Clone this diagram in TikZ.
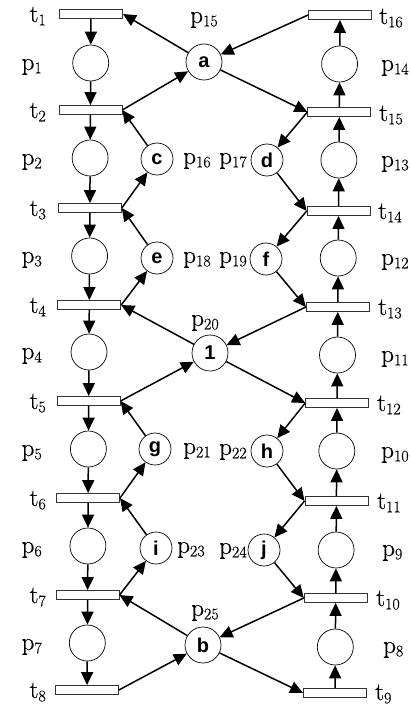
\documentclass[tikz,border=0pt]{standalone}
\usepackage{fontspec}
\newfontfamily\circfont{Liberation Sans}
\newfontfamily\labfont{Latin Modern Roman}[FakeBold=0.4]
\usetikzlibrary{arrows.meta}
\newcommand\lb[2]{#1\raisebox{-0.13em}{\fontsize{16}{16}\selectfont #2}}
\begin{document}
\begin{tikzpicture}[x=1pt,y=-1pt,
  bar/.style={draw=black!80, fill=white, minimum width=63pt, minimum height=9pt, inner sep=0pt, line width=0.8pt},
  place/.style={circle, draw, fill=white, minimum size=36pt, inner sep=0pt, line width=0.7pt,
    font=\circfont\bfseries\fontsize{20}{20}\selectfont},
  splace/.style={place, minimum size=32pt},
  arr/.style={-{Triangle[length=13pt,width=12pt]}, line width=1.5pt},
  lab/.style={font=\labfont\fontsize{25}{28}\selectfont, inner sep=0pt}]
\useasboundingbox (0,0) rectangle (410,706);
% left column
\node[bar] (t1) at (91,14) {};
\node[place] (p1) at (90.7,63) {};
\node[bar] (t2) at (90.4,110) {};
\node[place] (p2) at (90.1,158) {};
\node[bar] (t3) at (89.9,208) {};
\node[place] (p3) at (89.6,256) {};
\node[bar] (t4) at (89.3,305) {};
\node[place] (p4) at (89,352) {};
\node[bar] (t5) at (88.7,401) {};
\node[place] (p5) at (88.4,449) {};
\node[bar] (t6) at (88.1,498) {};
\node[place] (p6) at (87.9,546) {};
\node[bar] (t7) at (87.6,595) {};
\node[place] (p7) at (87.3,643) {};
\node[bar] (t8) at (87,690) {};
% right column
\node[bar] (t16) at (340,15) {};
\node[place] (p14) at (339.6,64) {};
\node[bar] (t15) at (339.3,112) {};
\node[place] (p13) at (338.9,160) {};
\node[bar] (t14) at (338.6,211) {};
\node[place] (p12) at (338.2,258) {};
\node[bar] (t13) at (337.8,307) {};
\node[place] (p11) at (337.5,355) {};
\node[bar] (t12) at (337.1,403) {};
\node[place] (p10) at (336.8,451) {};
\node[bar] (t11) at (336.4,501) {};
\node[place] (p9) at (336.1,550) {};
\node[bar] (t10) at (335.7,598) {};
\node[place] (p8) at (335.3,647) {};
\node[bar] (t9) at (335,693) {};
% middle places
\node[place] (a) at (204,62) {a};
\node[splace] (c) at (157,159) {c};
\node[splace] (d) at (267,160) {d};
\node[splace] (e) at (157,258) {e};
\node[splace] (f) at (266,259) {f};
\node[place] (one) at (210,353) {1};
\node[splace] (g) at (155,449) {g};
\node[splace] (h) at (267,451) {h};
\node[splace] (i) at (156,548) {i};
\node[splace] (j) at (264,550) {j};
\node[place] (b) at (203,645) {b};
% left column arcs
\draw[arr] (t1) -- (p1);
\draw[arr] (p1) -- (t2);
\draw[arr] (t2) -- (p2);
\draw[arr] (p2) -- (t3);
\draw[arr] (t3) -- (p3);
\draw[arr] (p3) -- (t4);
\draw[arr] (t4) -- (p4);
\draw[arr] (p4) -- (t5);
\draw[arr] (t5) -- (p5);
\draw[arr] (p5) -- (t6);
\draw[arr] (t6) -- (p6);
\draw[arr] (p6) -- (t7);
\draw[arr] (t7) -- (p7);
\draw[arr] (p7) -- (t8);
% right column arcs
\draw[arr] (t9) -- (p8);
\draw[arr] (p8) -- (t10);
\draw[arr] (t10) -- (p9);
\draw[arr] (p9) -- (t11);
\draw[arr] (t11) -- (p10);
\draw[arr] (p10) -- (t12);
\draw[arr] (t12) -- (p11);
\draw[arr] (p11) -- (t13);
\draw[arr] (t13) -- (p12);
\draw[arr] (p12) -- (t14);
\draw[arr] (t14) -- (p13);
\draw[arr] (p13) -- (t15);
\draw[arr] (t15) -- (p14);
\draw[arr] (p14) -- (t16);
% left diagonals
\draw[arr] (a) -- (t1.east);
\draw[arr] (t2.east) -- (a);
\draw[arr] (c) -- (t2.east);
\draw[arr] (t3.east) -- (c);
\draw[arr] (e) -- (t3.east);
\draw[arr] (t4.east) -- (e);
\draw[arr] (one) -- (t4.east);
\draw[arr] (t5.east) -- (one);
\draw[arr] (g) -- (t5.east);
\draw[arr] (t6.east) -- (g);
\draw[arr] (i) -- (t6.east);
\draw[arr] (t7.east) -- (i);
\draw[arr] (b) -- (t7.east);
\draw[arr] (t8.east) -- (b);
% right diagonals
\draw[arr] (t16.west) -- (a);
\draw[arr] (a) -- (t15.west);
\draw[arr] (t15.west) -- (d);
\draw[arr] (d) -- (t14.west);
\draw[arr] (t14.west) -- (f);
\draw[arr] (f) -- (t13.west);
\draw[arr] (t13.west) -- (one);
\draw[arr] (one) -- (t12.west);
\draw[arr] (t12.west) -- (h);
\draw[arr] (h) -- (t11.west);
\draw[arr] (t11.west) -- (j);
\draw[arr] (j) -- (t10.west);
\draw[arr] (t10.west) -- (b);
\draw[arr] (b) -- (t9.west);
% left labels
\node[lab, anchor=base east] (lt1) at (46,22) {\lb{t}{1}};
\node[lab, anchor=base east] (lt2) at (46,118) {\lb{t}{2}};
\node[lab, anchor=base east] (lt3) at (46,216) {\lb{t}{3}};
\node[lab, anchor=base east] (lt4) at (46,313) {\lb{t}{4}};
\node[lab, anchor=base east] (lt5) at (46,409) {\lb{t}{5}};
\node[lab, anchor=base east] (lt6) at (46,506) {\lb{t}{6}};
\node[lab, anchor=base east] (lt7) at (46,603) {\lb{t}{7}};
\node[lab, anchor=base east] (lt8) at (46,698) {\lb{t}{8}};
\node[lab, anchor=base east] (lp1) at (42,70) {\lb{p}{1}};
\node[lab, anchor=base east] (lp2) at (42,165) {\lb{p}{2}};
\node[lab, anchor=base east] (lp3) at (42,263) {\lb{p}{3}};
\node[lab, anchor=base east] (lp4) at (42,359) {\lb{p}{4}};
\node[lab, anchor=base east] (lp5) at (42,456) {\lb{p}{5}};
\node[lab, anchor=base east] (lp6) at (42,553) {\lb{p}{6}};
\node[lab, anchor=base east] (lp7) at (42,650) {\lb{p}{7}};
% right labels
\node[lab, anchor=base west] (lt16) at (379,24) {\lb{t}{16}};
\node[lab, anchor=base west] (lt15) at (379,121) {\lb{t}{15}};
\node[lab, anchor=base west] (lt14) at (378,219) {\lb{t}{14}};
\node[lab, anchor=base west] (lt13) at (378,315) {\lb{t}{13}};
\node[lab, anchor=base west] (lt12) at (377,411) {\lb{t}{12}};
\node[lab, anchor=base west] (lt11) at (377,509) {\lb{t}{11}};
\node[lab, anchor=base west] (lt10) at (376,606) {\lb{t}{10}};
\node[lab, anchor=base west] (lt9) at (375,700) {\lb{t}{9}};
\node[lab, anchor=base west] (lp14) at (381,71) {\lb{p}{14}};
\node[lab, anchor=base west] (lp13) at (381,167) {\lb{p}{13}};
\node[lab, anchor=base west] (lp12) at (381,265) {\lb{p}{12}};
\node[lab, anchor=base west] (lp11) at (381,362) {\lb{p}{11}};
\node[lab, anchor=base west] (lp10) at (381,458) {\lb{p}{10}};
\node[lab, anchor=base west] (lp9) at (382,556) {\lb{p}{9}};
\node[lab, anchor=base west] (lp8) at (383,653) {\lb{p}{8}};
% middle labels
\node[lab, anchor=base] (lp15) at (204,23) {\lb{p}{15}};
\node[lab, anchor=base] (lp16) at (197,164) {\lb{p}{16}};
\node[lab, anchor=base] (lp17) at (233,164) {\lb{p}{17}};
\node[lab, anchor=base] (lp18) at (197,263) {\lb{p}{18}};
\node[lab, anchor=base] (lp19) at (233,263) {\lb{p}{19}};
\node[lab, anchor=base] (lp20) at (205,326) {\lb{p}{20}};
\node[lab, anchor=base] (lp21) at (197,454) {\lb{p}{21}};
\node[lab, anchor=base] (lp22) at (233,455) {\lb{p}{22}};
\node[lab, anchor=base] (lp23) at (191,553) {\lb{p}{23}};
\node[lab, anchor=base] (lp24) at (233,554) {\lb{p}{24}};
\node[lab, anchor=base] (lp25) at (205,616) {\lb{p}{25}};
\end{tikzpicture}
\end{document}
